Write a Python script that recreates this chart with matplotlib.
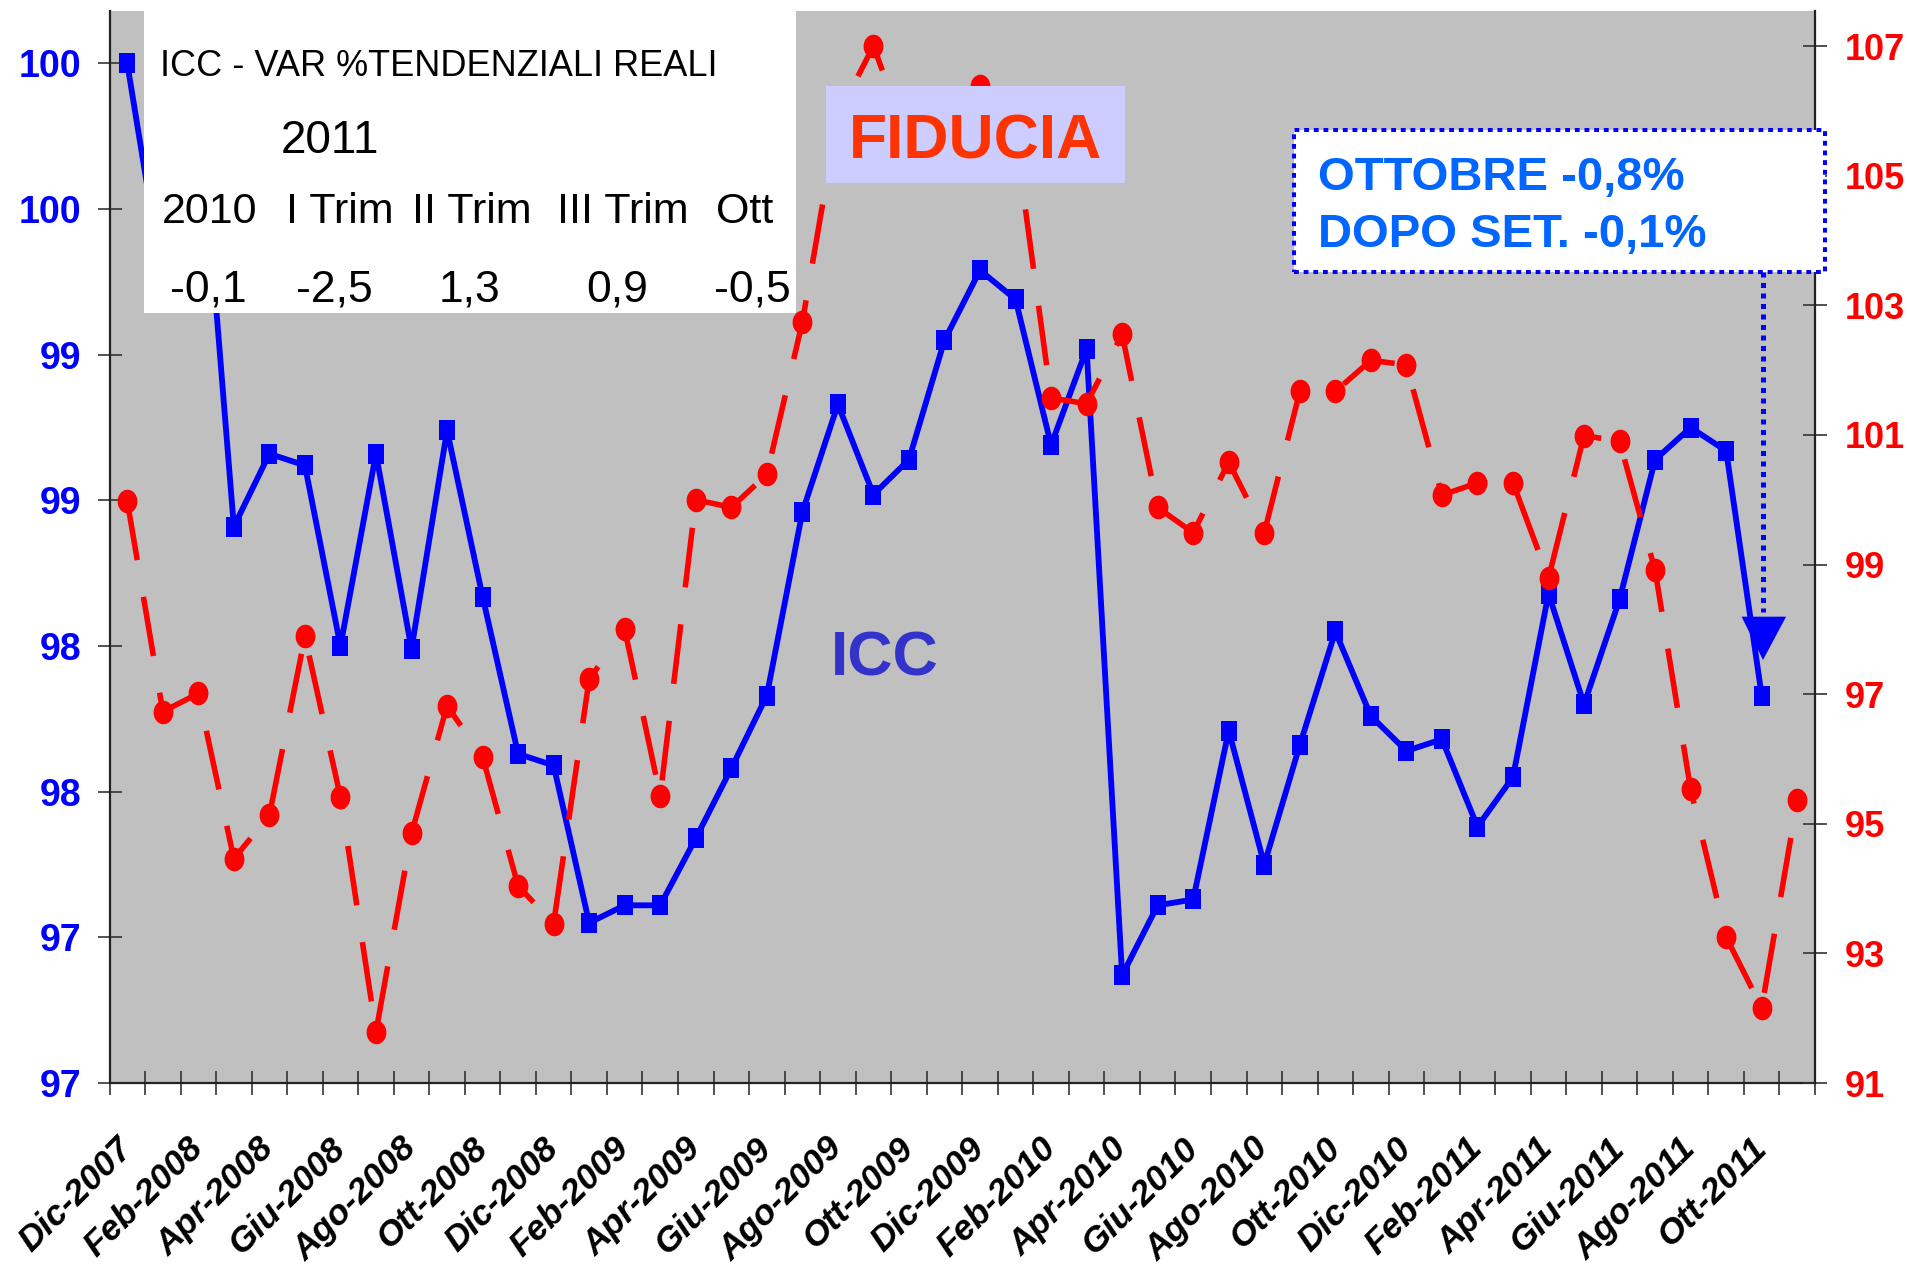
import numpy as np
import matplotlib.pyplot as plt
from matplotlib.patches import Rectangle, Polygon
from matplotlib.lines import Line2D
from matplotlib.transforms import ScaledTranslation

# categorie mensili: Dic-2007 ... Nov-2011
nomi_mesi = ["Gen", "Feb", "Mar", "Apr", "Mag", "Giu", "Lug", "Ago", "Set", "Ott", "Nov", "Dic"]
mesi = ["Dic-2007"] + [f"{m}-{a}" for a in range(2008, 2012) for m in nomi_mesi][:47]

# ICC (asse sinistro)
icc = [100.0, 99.25, 99.92, 98.41, 98.66, 98.62, 98.00, 98.66, 97.99, 98.74,
       98.17, 97.63, 97.59, 97.05, 97.11, 97.11, 97.34, 97.58, 97.83, 98.46,
       98.83, 98.52, 98.64, 99.05, 99.29, 99.19, 98.69, 99.02, 96.87, 97.11,
       97.13, 97.71, 97.25, 97.66, 98.05, 97.76, 97.64, 97.68, 97.38, 97.55,
       98.18, 97.80, 98.16, 98.64, 98.75, 98.67, 97.83, np.nan]

# fiducia (asse destro)
fiducia = [99.98, 96.73, 97.01, 94.46, 95.13, 97.89, 95.41, 91.79, 94.85, 96.82,
           96.03, 94.04, 93.46, 97.23, 98.00, 95.43, 100.0, 99.88, 100.39, 102.74,
           105.93, 107.0, 105.5, 105.3, 106.38, 105.6, 101.57, 101.48, 102.55, 99.88,
           99.49, 100.58, 99.49, 101.67, 101.67, 102.15, 102.08, 100.07, 100.26, 100.26,
           98.79, 100.99, 100.90, 98.91, 95.53, 93.25, 92.16, 95.36]

left_ticks = [96.5, 97.0, 97.5, 98.0, 98.5, 99.0, 99.5, 100.0]
left_labels = ["97", "97", "98", "98", "99", "99", "100", "100"]
right_ticks = [91, 93, 95, 97, 99, 101, 103, 105, 107]

tab_header = ["2010", "I Trim", "II Trim", "III Trim", "Ott"]
tab_values = ["-0,1", "-2,5", "1,3", "0,9", "-0,5"]

plt.rcParams['font.family'] = ['Liberation Sans', 'DejaVu Sans']

fig = plt.figure(figsize=(19.08, 12.65), dpi=100)
ax = fig.add_axes([0.05739, 0.14387, 0.89387, 0.84743])
ax.set_facecolor('#C0C0C0')
ax2 = ax.twinx()

x = np.arange(len(mesi))
sq = [(-0.42, -0.5), (0.42, -0.5), (0.42, 0.5), (-0.42, 0.5)]
t = np.linspace(0, 2 * np.pi, 40)
ell = list(zip(0.42 * np.cos(t), 0.5 * np.sin(t)))

ax.plot(x, icc, color='#0000FF', lw=4.2, marker=sq, ms=14.5, mew=0, zorder=3)
ax2.plot(x, fiducia, color='#FF0000', lw=4, dashes=(10.8, 6.7), dash_capstyle='butt',
         marker=ell, ms=17, mew=0, zorder=3)

ax.set_xlim(-0.5, len(mesi) - 0.5)
ax.set_ylim(96.5, 100.18)
ax2.set_ylim(91, 107.54)

for a in (ax, ax2):
    a.spines['top'].set_visible(False)
    for s in a.spines.values():
        s.set_color('#222222')
        s.set_linewidth(1.6)
ax.spines['right'].set_visible(False)
ax2.spines['left'].set_visible(False)
ax2.spines['bottom'].set_visible(False)

# asse x
ax.set_xticks(x[::2])
ax.set_xticklabels(mesi[::2], rotation=45, ha='right', va='top', rotation_mode='anchor',
                   fontsize=25.5, fontweight='bold', fontstyle='italic')
ax.set_xticks(np.arange(-0.5, len(mesi), 1), minor=True)
ax.tick_params(axis='x', which='major', length=0, pad=35)
ax.tick_params(axis='x', which='minor', direction='inout', length=17, width=1.2, color='#333333')
shift = ScaledTranslation(-12 / 100, 0, fig.dpi_scale_trans)
for lab in ax.get_xticklabels():
    lab.set_transform(lab.get_transform() + shift)

# assi y
ax.set_yticks(left_ticks)
ax.set_yticklabels(left_labels, fontsize=27, fontweight='bold', color='#0000FF')
ax.tick_params(axis='y', direction='inout', length=17, width=1.2, color='#333333', pad=12)
ax2.set_yticks(right_ticks)
ax2.set_yticklabels([str(v) for v in right_ticks], fontsize=26, fontweight='bold', color='#FF0000')
ax2.tick_params(axis='y', direction='inout', length=17, width=1.2, color='#333333', pad=13)

# riquadro tabella
fig.add_artist(Rectangle((0.0757, 0.7526), 0.3413, 0.2387, transform=fig.transFigure,
                         facecolor='white', edgecolor='none', zorder=5))
fig.text(0.0839, 0.940, "ICC - VAR %TENDENZIALI REALI", fontsize=26,
         ha='left', va='baseline', zorder=6)
fig.text(0.173, 0.879, "2011", fontsize=33, ha='center', va='baseline', zorder=6)
for xc, s in zip([0.1101, 0.1782, 0.2474, 0.3265, 0.3905], tab_header):
    fig.text(xc, 0.8237, s, fontsize=31, ha='center', va='baseline', zorder=6)
for xc, s in zip([0.1090, 0.1751, 0.2463, 0.3234, 0.3941], tab_values):
    fig.text(xc, 0.7613, s, fontsize=32, ha='center', va='baseline', zorder=6)

# FIDUCIA
fig.add_artist(Rectangle((0.4329, 0.8553), 0.1567, 0.0767, transform=fig.transFigure,
                         facecolor='#CCCCFF', edgecolor='none', zorder=5))
fig.text(0.5113, 0.8749, "FIDUCIA", fontsize=45, fontweight='bold', color='#FF3300',
         ha='center', va='baseline', zorder=6)

# ICC
fig.text(0.4636, 0.4664, "ICC", fontsize=45, fontweight='bold', color='#3333CC',
         ha='center', va='baseline', zorder=6)

# nota ottobre
fig.add_artist(Rectangle((0.6782, 0.7852), 0.2781, 0.1120, transform=fig.transFigure,
                         facecolor='white', edgecolor='#0000FF', lw=2.9,
                         linestyle=(0, (1.2, 1.2)), zorder=5))
fig.text(0.6908, 0.8498, "OTTOBRE -0,8%", fontsize=34, fontweight='bold', color='#0066FF',
         ha='left', va='baseline', zorder=6)
fig.text(0.6908, 0.8050, "DOPO SET. -0,1%", fontsize=34, fontweight='bold', color='#0066FF',
         ha='left', va='baseline', zorder=6)
fig.add_artist(Line2D([0.924, 0.924], [0.7852, 0.5162], transform=fig.transFigure,
                      color='#0000FF', lw=3.6, linestyle=(0, (1, 1.1)), zorder=5))
fig.add_artist(Polygon([(0.9128, 0.5125), (0.9361, 0.5125), (0.9240, 0.4783)], closed=True,
                       transform=fig.transFigure, facecolor='#0000FF', edgecolor='none', zorder=5))

fig.savefig('out.png', dpi=100)
